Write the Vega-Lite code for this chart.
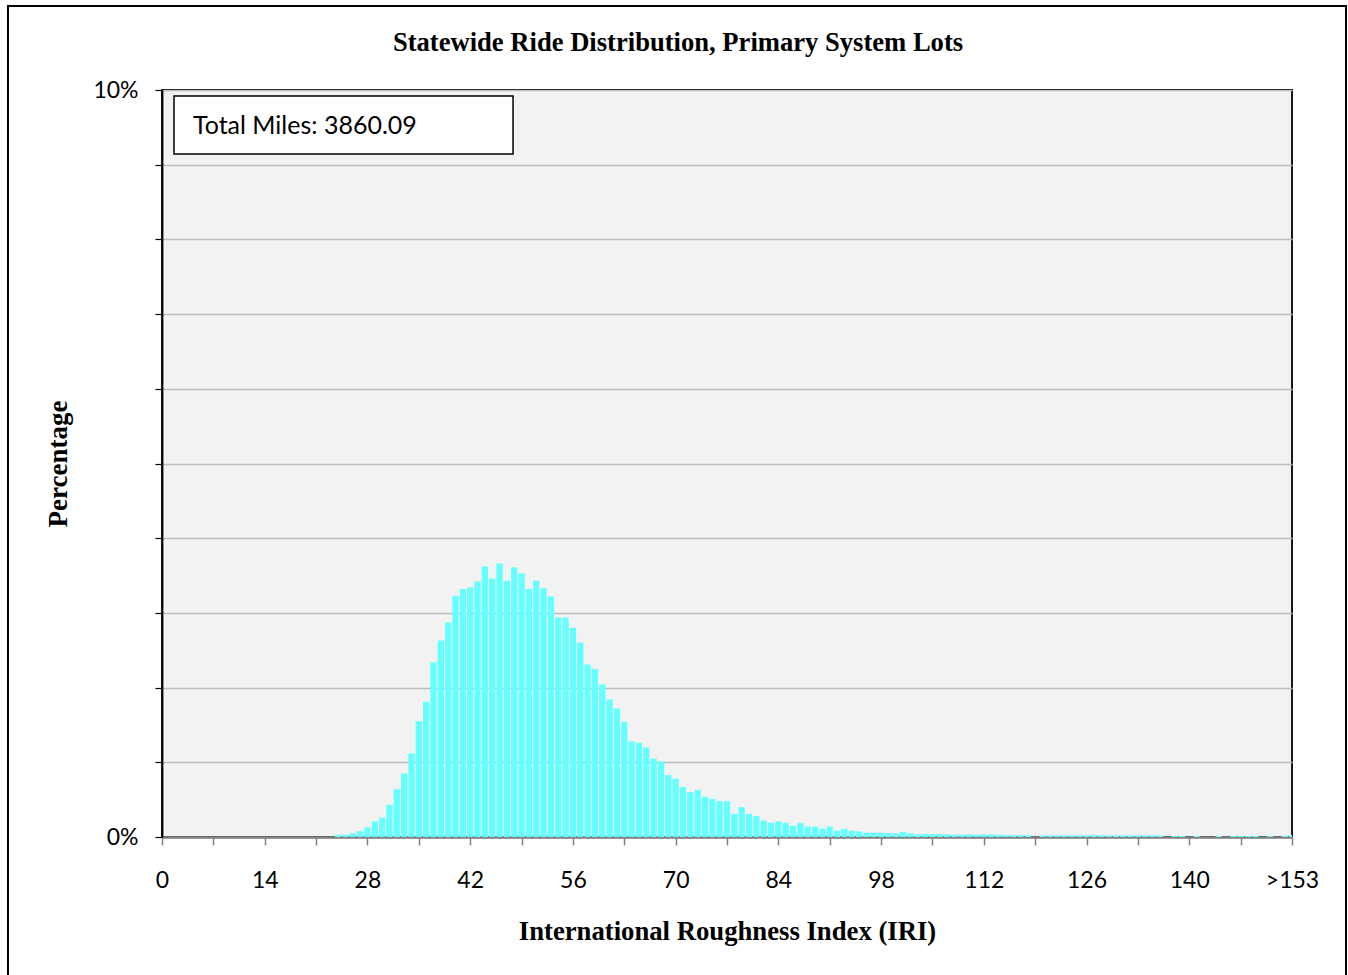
{
  "$schema": "https://vega.github.io/schema/vega-lite/v6.json",
  "autosize": {"type": "none"},
  "width": 1130,
  "height": 747,
  "padding": {"left": 162, "top": 90, "right": 56, "bottom": 138},
  "background": "white",
  "title": {
    "text": "Statewide Ride Distribution, Primary System Lots",
    "font": "Liberation Serif",
    "fontSize": 26.6,
    "fontWeight": "bold",
    "color": "black",
    "anchor": "middle",
    "dx": -49,
    "offset": -52
  },
  "config": {
    "view": {"fill": "#f2f2f2", "stroke": "black", "strokeWidth": 1.8}
  },
  "data": {
    "values": [
      {"iri": 24, "pct": 0.03}, {"iri": 25, "pct": 0.03}, {"iri": 26, "pct": 0.05}, {"iri": 27, "pct": 0.08},
      {"iri": 28, "pct": 0.13}, {"iri": 29, "pct": 0.21}, {"iri": 30, "pct": 0.26}, {"iri": 31, "pct": 0.43},
      {"iri": 32, "pct": 0.64}, {"iri": 33, "pct": 0.85}, {"iri": 34, "pct": 1.12}, {"iri": 35, "pct": 1.55},
      {"iri": 36, "pct": 1.81}, {"iri": 37, "pct": 2.34}, {"iri": 38, "pct": 2.63}, {"iri": 39, "pct": 2.87},
      {"iri": 40, "pct": 3.23}, {"iri": 41, "pct": 3.32}, {"iri": 42, "pct": 3.34}, {"iri": 43, "pct": 3.42},
      {"iri": 44, "pct": 3.62}, {"iri": 45, "pct": 3.46}, {"iri": 46, "pct": 3.66}, {"iri": 47, "pct": 3.43},
      {"iri": 48, "pct": 3.61}, {"iri": 49, "pct": 3.53}, {"iri": 50, "pct": 3.32}, {"iri": 51, "pct": 3.43},
      {"iri": 52, "pct": 3.33}, {"iri": 53, "pct": 3.22}, {"iri": 54, "pct": 2.94}, {"iri": 55, "pct": 2.94},
      {"iri": 56, "pct": 2.80}, {"iri": 57, "pct": 2.60}, {"iri": 58, "pct": 2.31}, {"iri": 59, "pct": 2.25},
      {"iri": 60, "pct": 2.04}, {"iri": 61, "pct": 1.84}, {"iri": 62, "pct": 1.72}, {"iri": 63, "pct": 1.54},
      {"iri": 64, "pct": 1.28}, {"iri": 65, "pct": 1.26}, {"iri": 66, "pct": 1.20}, {"iri": 67, "pct": 1.05},
      {"iri": 68, "pct": 1.01}, {"iri": 69, "pct": 0.83}, {"iri": 70, "pct": 0.78}, {"iri": 71, "pct": 0.67},
      {"iri": 72, "pct": 0.60}, {"iri": 73, "pct": 0.63}, {"iri": 74, "pct": 0.54}, {"iri": 75, "pct": 0.51},
      {"iri": 76, "pct": 0.48}, {"iri": 77, "pct": 0.48}, {"iri": 78, "pct": 0.31}, {"iri": 79, "pct": 0.40},
      {"iri": 80, "pct": 0.31}, {"iri": 81, "pct": 0.28}, {"iri": 82, "pct": 0.22}, {"iri": 83, "pct": 0.19},
      {"iri": 84, "pct": 0.21}, {"iri": 85, "pct": 0.19}, {"iri": 86, "pct": 0.15}, {"iri": 87, "pct": 0.19},
      {"iri": 88, "pct": 0.14}, {"iri": 89, "pct": 0.14}, {"iri": 90, "pct": 0.11}, {"iri": 91, "pct": 0.14},
      {"iri": 92, "pct": 0.085}, {"iri": 93, "pct": 0.107}, {"iri": 94, "pct": 0.085}, {"iri": 95, "pct": 0.076},
      {"iri": 96, "pct": 0.058}, {"iri": 97, "pct": 0.058}, {"iri": 98, "pct": 0.058}, {"iri": 99, "pct": 0.054},
      {"iri": 100, "pct": 0.049}, {"iri": 101, "pct": 0.067}, {"iri": 102, "pct": 0.049}, {"iri": 103, "pct": 0.036},
      {"iri": 104, "pct": 0.04}, {"iri": 105, "pct": 0.04}, {"iri": 106, "pct": 0.04}, {"iri": 107, "pct": 0.036},
      {"iri": 108, "pct": 0.031}, {"iri": 109, "pct": 0.031}, {"iri": 110, "pct": 0.036}, {"iri": 111, "pct": 0.03},
      {"iri": 112, "pct": 0.035}, {"iri": 113, "pct": 0.035}, {"iri": 114, "pct": 0.03}, {"iri": 115, "pct": 0.025},
      {"iri": 116, "pct": 0.025}, {"iri": 117, "pct": 0.025}, {"iri": 118, "pct": 0.025}, {"iri": 119, "pct": 0},
      {"iri": 120, "pct": 0.02}, {"iri": 121, "pct": 0.02}, {"iri": 122, "pct": 0.02}, {"iri": 123, "pct": 0.02},
      {"iri": 124, "pct": 0.02}, {"iri": 125, "pct": 0.02}, {"iri": 126, "pct": 0.02}, {"iri": 127, "pct": 0.03},
      {"iri": 128, "pct": 0.02}, {"iri": 129, "pct": 0.02}, {"iri": 130, "pct": 0.02}, {"iri": 131, "pct": 0.02},
      {"iri": 132, "pct": 0.02}, {"iri": 133, "pct": 0.02}, {"iri": 134, "pct": 0.02}, {"iri": 135, "pct": 0.02},
      {"iri": 136, "pct": 0.02}, {"iri": 137, "pct": 0}, {"iri": 138, "pct": 0.015}, {"iri": 139, "pct": 0.015},
      {"iri": 140, "pct": 0}, {"iri": 141, "pct": 0.015}, {"iri": 142, "pct": 0}, {"iri": 143, "pct": 0},
      {"iri": 144, "pct": 0.015}, {"iri": 145, "pct": 0}, {"iri": 146, "pct": 0.015}, {"iri": 147, "pct": 0.015},
      {"iri": 148, "pct": 0.015}, {"iri": 149, "pct": 0.015}, {"iri": 150, "pct": 0}, {"iri": 151, "pct": 0.012},
      {"iri": 152, "pct": 0}, {"iri": 153, "pct": 0.012}, {"iri": 154, "pct": 0.03}
    ]
  },
  "layer": [
    {
      "mark": {"type": "bar", "color": "#66ffff", "width": 6.3, "clip": true},
      "encoding": {
        "x": {
          "field": "iri",
          "type": "quantitative",
          "scale": {"domain": [0, 154], "nice": false, "zero": false, "padding": 0},
          "axis": {
            "title": "International Roughness Index (IRI)",
            "titleFont": "Liberation Serif",
            "titleFontSize": 26.7,
            "titleFontWeight": "bold",
            "titleColor": "black",
            "titlePadding": 26,
            "values": [0, 7, 14, 21, 28, 35, 42, 49, 56, 63, 70, 77, 84, 91, 98, 105, 112, 119, 126, 133, 140, 147, 154],
            "labelExpr": "datum.value == 154 ? '>153' : (datum.value % 14 == 0 ? datum.value : '')",
            "labelFont": "Lato",
            "labelFontSize": 23,
            "labelColor": "black",
            "labelPadding": 24,
            "labelOverlap": false,
            "labelBound": false,
            "labelFlush": false,
            "grid": false,
            "tickColor": "#808080",
            "tickSize": 8,
            "tickWidth": 1.5,
            "domainColor": "#808080",
            "domainWidth": 2.5
          }
        },
        "y": {
          "field": "pct",
          "type": "quantitative",
          "scale": {"domain": [0, 10], "nice": false},
          "axis": {
            "title": "Percentage",
            "titleFont": "Liberation Serif",
            "titleFontSize": 27,
            "titleFontWeight": "bold",
            "titleColor": "black",
            "titlePadding": 20,
            "values": [0, 1, 2, 3, 4, 5, 6, 7, 8, 9, 10],
            "labelExpr": "datum.value == 0 || datum.value == 10 ? datum.value + '%' : ''",
            "labelFont": "Lato",
            "labelFontSize": 23,
            "labelColor": "black",
            "labelPadding": 17,
            "labelOverlap": false,
            "labelBound": false,
            "labelFlush": false,
            "grid": true,
            "gridColor": "#bdbdbd",
            "gridWidth": 1.4,
            "tickColor": "black",
            "tickSize": 7,
            "tickWidth": 1.2,
            "domainColor": "black",
            "domainWidth": 1.8
          }
        }
      }
    },
    {
      "data": {"values": [{"label": "Total Miles: 3860.09"}]},
      "mark": {"type": "rect", "fill": "white", "stroke": "black", "strokeWidth": 1.5},
      "encoding": {
        "x": {"datum": 1.635, "type": "quantitative"},
        "x2": {"datum": 47.84},
        "y": {"datum": 9.92, "type": "quantitative"},
        "y2": {"datum": 9.143}
      }
    },
    {
      "data": {"values": [{"label": "Total Miles: 3860.09"}]},
      "mark": {"type": "text", "font": "Lato", "fontSize": 25, "align": "left", "baseline": "middle", "color": "black"},
      "encoding": {
        "text": {"field": "label", "type": "nominal"},
        "x": {"datum": 4.22, "type": "quantitative"},
        "y": {"datum": 9.518, "type": "quantitative"}
      }
    },
    {
      "data": {"values": [{"label": "frame"}]},
      "mark": {"type": "rect", "fill": null, "stroke": "black", "strokeWidth": 2, "clip": false},
      "encoding": {
        "x": {"datum": -20.99, "type": "quantitative"},
        "x2": {"datum": 161.36},
        "y": {"datum": 11.125, "type": "quantitative"},
        "y2": {"datum": -1.9}
      }
    }
  ]
}
